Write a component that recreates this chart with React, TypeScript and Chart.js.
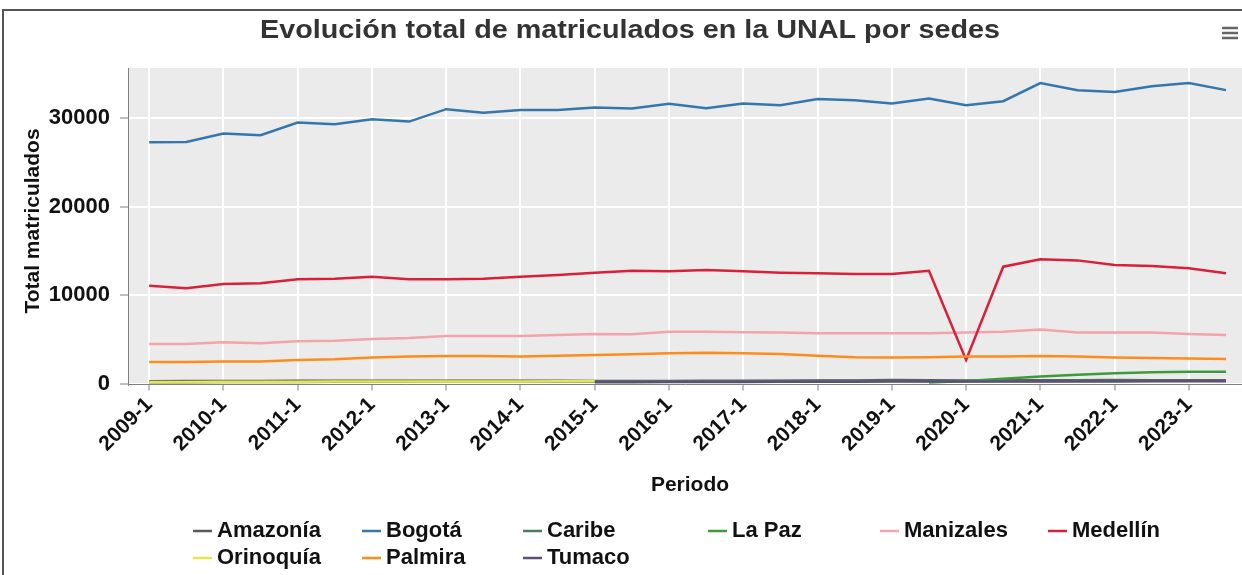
import React, { useEffect, useRef } from 'react';
import { Chart, registerables } from 'chart.js';

Chart.register(...registerables);

const periods = [
  '2009-1', '2009-2', '2010-1', '2010-2', '2011-1', '2011-2', '2012-1', '2012-2',
  '2013-1', '2013-2', '2014-1', '2014-2', '2015-1', '2015-2', '2016-1', '2016-2',
  '2017-1', '2017-2', '2018-1', '2018-2', '2019-1', '2019-2', '2020-1', '2020-2',
  '2021-1', '2021-2', '2022-1', '2022-2', '2023-1', '2023-2',
];

const amazonia = [280, 290, 300, 300, 310, 310, 320, 320, 330, 330, 320, 320, 300, 290, 300, 310, 320, 330, 340, 350, 420, 380, 350, 370, 380, 390, 400, 390, 380, 370];
const bogota = [27250, 27300, 28250, 28050, 29500, 29300, 29850, 29600, 31000, 30600, 30900, 30900, 31200, 31080, 31600, 31100, 31650, 31450, 32150, 32000, 31650, 32200, 31450, 31900, 33950, 33150, 32950, 33600, 33950, 33150];
const caribe = [150, 160, 170, 180, 190, 200, 210, 220, 230, 240, 250, 250, 250, 250, 260, 270, 280, 290, 300, 300, 320, 300, 280, 290, 300, 310, 320, 330, 320, 310];
const laPaz = [null, null, null, null, null, null, null, null, null, null, null, null, null, null, null, null, null, null, null, null, null, 120, 300, 560, 800, 1000, 1170, 1270, 1330, 1350];
const manizales = [4480, 4480, 4670, 4560, 4790, 4850, 5040, 5160, 5380, 5380, 5380, 5500, 5600, 5570, 5870, 5870, 5800, 5770, 5690, 5690, 5690, 5690, 5770, 5870, 6100, 5770, 5760, 5760, 5610, 5500];
const medellin = [11060, 10770, 11250, 11330, 11780, 11850, 12080, 11780, 11780, 11850, 12080, 12270, 12530, 12750, 12680, 12830, 12680, 12530, 12460, 12380, 12380, 12750, 2680, 13210, 14040, 13920, 13400, 13280, 13020, 12460];
const orinoquia = [180, 190, 200, 210, 220, 230, 230, 240, 240, 250, 250, 260, 260, null, null, null, null, null, null, null, null, null, null, null, null, null, null, null, null, null];
const palmira = [2450, 2450, 2490, 2490, 2680, 2750, 2940, 3050, 3130, 3130, 3050, 3160, 3220, 3310, 3430, 3500, 3430, 3350, 3160, 2980, 2940, 2980, 3050, 3050, 3120, 3050, 2940, 2900, 2850, 2790];
const tumaco = [null, null, null, null, null, null, null, null, null, null, null, null, 150, 160, 170, 180, 190, 200, 210, 220, 230, 230, 230, 230, 240, 250, 250, 260, 260, 260];

const seriesNames = ['Amazonía', 'Bogotá', 'Caribe', 'La Paz', 'Manizales', 'Medellín', 'Orinoquía', 'Palmira', 'Tumaco'];
const seriesValues = [amazonia, bogota, caribe, laPaz, manizales, medellin, orinoquia, palmira, tumaco];
const seriesColors = ['#5a5a5a', '#3576ad', '#4f7a5e', '#3c9a3c', '#f4a3ab', '#d8203a', '#e6e64a', '#ff8c1a', '#5c4f78'];

const yTicks = [0, 10000, 20000, 30000];

const titleText = 'Evolución total de matriculados en la UNAL por sedes';
const yTitleText = 'Total matriculados';
const xTitleText = 'Periodo';

const FONT = '"Liberation Sans", Arial, sans-serif';

// legend layout (column text x positions, rows)
const legendCols = [217, 386, 547, 732, 904, 1072];
const legendRows = [531, 558];

function fitText(ctx: any, text: string, cx: number, cy: number, width: number) {
  const w = ctx.measureText(text).width;
  const sx = width / w;
  ctx.save();
  ctx.translate(cx, cy);
  ctx.scale(sx, 1);
  ctx.textAlign = 'center';
  ctx.fillText(text, 0, 0);
  ctx.restore();
}

const decorPlugin = {
  id: 'decor',
  beforeDraw(chart: any) {
    const { ctx, chartArea } = chart;
    ctx.save();
    ctx.fillStyle = '#EBEBEB';
    ctx.fillRect(chartArea.left, chartArea.top, chartArea.right - chartArea.left, chartArea.bottom - chartArea.top);
    ctx.restore();
  },
  afterDraw(chart: any) {
    const { ctx } = chart;
    ctx.save();
    // frame
    ctx.strokeStyle = '#555';
    ctx.lineWidth = 2;
    ctx.beginPath();
    ctx.moveTo(3, 575);
    ctx.lineTo(3, 10);
    ctx.lineTo(1242, 10);
    ctx.stroke();
    // hamburger
    ctx.strokeStyle = '#666';
    ctx.lineWidth = 2.5;
    [28, 33, 38].forEach((y) => {
      ctx.beginPath();
      ctx.moveTo(1222, y);
      ctx.lineTo(1238, y);
      ctx.stroke();
    });
    // title
    ctx.fillStyle = '#333';
    ctx.font = `bold 26px ${FONT}`;
    ctx.textBaseline = 'middle';
    fitText(ctx, titleText, 630, 31, 740);
    // axis titles
    ctx.fillStyle = '#111';
    ctx.font = `bold 21px ${FONT}`;
    ctx.textAlign = 'center';
    ctx.fillText(xTitleText, 690, 485);
    ctx.save();
    ctx.translate(33, 221);
    ctx.rotate(-Math.PI / 2);
    ctx.fillText(yTitleText, 0, 0);
    ctx.restore();
    // legend
    ctx.font = `bold 22px ${FONT}`;
    ctx.textAlign = 'left';
    seriesNames.forEach((name, i) => {
      const col = i % 6;
      const row = Math.floor(i / 6);
      const tx = legendCols[col];
      const y = legendRows[row];
      ctx.strokeStyle = seriesColors[i];
      ctx.lineWidth = 2.5;
      ctx.beginPath();
      ctx.moveTo(tx - 24, y);
      ctx.lineTo(tx - 5, y);
      ctx.stroke();
      ctx.fillStyle = '#111';
      ctx.fillText(name, tx, y);
    });
    ctx.restore();
  },
};

export default function App() {
  const ref = useRef<HTMLCanvasElement | null>(null);
  useEffect(() => {
    document.body.style.margin = '0';
    const canvas = ref.current!;
    const chart = new Chart(canvas, {
      type: 'line',
      data: {
        datasets: seriesNames.map((name, i) => ({
          label: name,
          data: seriesValues[i].map((v, j) => ({ x: j, y: v })),
          borderColor: seriesColors[i],
          backgroundColor: seriesColors[i],
          borderWidth: 2.5,
          pointRadius: 0,
          tension: 0,
          spanGaps: false,
          order: -i,
        })),
      },
      options: {
        animation: false,
        responsive: false,
        events: [],
        layout: { autoPadding: false, padding: { left: 0, right: 0, top: 68, bottom: 575 - 384.5 - 110 } },
        plugins: { legend: { display: false }, title: { display: false }, tooltip: { enabled: false } },
        scales: {
          x: {
            type: 'linear',
            position: 'bottom',
            min: -0.57,
            max: 29.43,
            afterFit: (s: any) => { s.height = 110; },
            afterBuildTicks: (s: any) => {
              s.ticks = periods.map((_, i) => i).filter((i) => i % 2 === 0).map((v) => ({ value: v }));
            },
            ticks: {
              autoSkip: false,
              maxRotation: 45,
              minRotation: 45,
              padding: 2,
              color: '#111',
              font: { family: FONT, size: 21, weight: 'bold' },
              callback: (v: any) => periods[v] ?? '',
            },
            grid: { color: '#ffffff', lineWidth: 2, tickColor: '#808080', tickLength: 6, tickWidth: 1 },
            border: { color: '#808080', width: 1 },
          },
          y: {
            min: -100,
            max: 35650,
            afterFit: (s: any) => { s.width = 128; },
            afterBuildTicks: (s: any) => { s.ticks = yTicks.map((v) => ({ value: v })); },
            ticks: {
              padding: 10,
              color: '#111',
              font: { family: FONT, size: 22, weight: 'bold' },
              callback: (v: any) => String(v),
            },
            grid: { color: '#ffffff', lineWidth: 2, tickColor: '#808080', tickLength: 8, tickWidth: 1 },
            border: { color: '#808080', width: 1 },
          },
        },
      } as any,
      plugins: [decorPlugin],
    });
    return () => chart.destroy();
  }, []);
  return (
    <div style={{ width: 1242, height: 575, position: 'relative', background: '#fff' }}>
      <canvas ref={ref} width={1242} height={575} style={{ display: 'block' }} />
    </div>
  );
}
